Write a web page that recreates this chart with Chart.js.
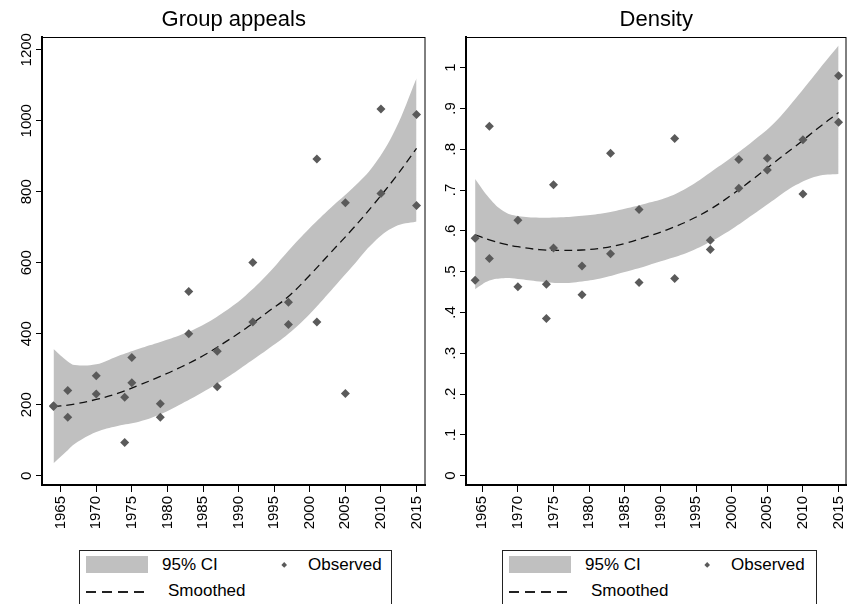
<!DOCTYPE html>
<html><head><meta charset="utf-8">
<script src="https://cdn.jsdelivr.net/npm/chart.js@4.4.1/dist/chart.umd.min.js"></script>
<style>
html,body{margin:0;padding:0;background:#fff;width:851px;height:604px;overflow:hidden;font-family:"Liberation Sans",Arial,sans-serif;}
canvas{position:absolute;top:0;}
#c1{left:0;}
#c2{left:430px;}
.legend{position:absolute;top:550px;height:70px;border:1px solid #222;box-sizing:border-box;background:#fff;}
.sw{position:absolute;left:6px;top:5px;width:62px;height:17px;background:#c0c0c0;}
.lt{position:absolute;font-size:17px;line-height:20px;height:20px;color:#000;white-space:nowrap;}
.dm{position:absolute;width:4.4px;height:4.4px;background:#5a5a5a;transform:rotate(45deg);}
.ds{position:absolute;left:6px;width:62px;height:1.5px;background:repeating-linear-gradient(to right,#222 0 10px,transparent 10px 16px);}
</style></head><body>
<canvas id="c1" width="430" height="545" style="width:430px;height:545px"></canvas>
<canvas id="c2" width="421" height="545" style="width:421px;height:545px"></canvas>
<div class="legend" style="left:79px;width:313px">
  <div class="sw"></div><div class="lt" style="left:82px;top:4px">95% CI</div>
  <div class="dm" style="left:202px;top:12px"></div><div class="lt" style="left:228px;top:4px">Observed</div>
  <div class="ds" style="top:40px"></div><div class="lt" style="left:88px;top:30px">Smoothed</div>
</div>
<div class="legend" style="left:502px;width:315px">
  <div class="sw"></div><div class="lt" style="left:82px;top:4px">95% CI</div>
  <div class="dm" style="left:202px;top:12px"></div><div class="lt" style="left:228px;top:4px">Observed</div>
  <div class="ds" style="top:40px"></div><div class="lt" style="left:88px;top:30px">Smoothed</div>
</div>
<script>
// ---- data ----
const electionYears = [1964,1966,1970,1974,1975,1979,1983,1987,1992,1997,2001,2005,2010,2015];
const appealsHigh = [197,240,282,221,333,203,519,351,601,489,892,769,1033,1018];
const appealsLow  = [195,165,230,94,262,165,400,251,433,426,433,232,795,761];
const densityHigh = [0.582,0.856,0.626,0.469,0.713,0.514,0.790,0.652,0.826,0.577,0.775,0.778,0.823,0.980];
const densityLow  = [0.479,0.532,0.463,0.385,0.558,0.443,0.544,0.473,0.483,0.554,0.704,0.749,0.690,0.866];

const smoothYearsL = [1964,1966,1967,1970,1973,1976,1979,1982,1985,1988,1991,1994,1997,2000,2003,2006,2009,2012,2015];
const appealsFit   = [195,199,202,215,232,255,280,307,338,375,415,460,505,565,630,695,765,840,922];
const appealsUpper = [357,322,312,314,337,358,377,398,425,462,508,566,634,698,756,810,875,975,1120];
const appealsLower = [35,72,90,123,140,152,173,203,236,272,313,355,400,456,522,590,658,702,716];

const smoothYearsR = [1964,1966,1968,1970,1973,1976,1979,1982,1985,1988,1991,1994,1997,2000,2003,2006,2009,2012,2015];
const densityFit   = [0.590,0.578,0.568,0.561,0.554,0.552,0.553,0.558,0.569,0.585,0.603,0.625,0.653,0.688,0.727,0.768,0.808,0.850,0.890];
const densityUpper = [0.727,0.680,0.648,0.636,0.632,0.633,0.637,0.643,0.654,0.667,0.682,0.708,0.743,0.780,0.820,0.865,0.925,0.990,1.054];
const densityLower = [0.457,0.478,0.484,0.482,0.476,0.472,0.476,0.485,0.499,0.514,0.530,0.548,0.573,0.604,0.640,0.677,0.712,0.734,0.739];

const xTicks = [1965,1970,1975,1980,1985,1990,1995,2000,2005,2010,2015];
const yTicksAppeals = [0,200,400,600,800,1000,1200];
const yTicksDensity = [0,0.1,0.2,0.3,0.4,0.5,0.6,0.7,0.8,0.9,1];

// ---- helpers ----
const FONT = '"Liberation Sans", Arial, sans-serif';
Chart.defaults.font.family = FONT;
Chart.defaults.color = '#000';
const pairs = (xs, ys) => ys.map((y, i) => ({x: xs[i], y}));

const framePlugin = {
  id: 'frame',
  afterDatasetsDraw(chart) {
    const {ctx, chartArea: a} = chart;
    ctx.save();
    ctx.strokeStyle = '#000';
    ctx.lineWidth = 1;
    ctx.strokeRect(a.left + 0.5, a.top + 0.5, a.right - a.left - 1, a.bottom - a.top - 1);
    ctx.restore();
  }
};

function build(id, o) {
  const pts = pairs(electionYears, o.high).concat(pairs(electionYears, o.low));
  return new Chart(document.getElementById(id), {
    type: 'scatter',
    data: {datasets: [
      {label: 'Observed', data: pts, pointStyle: 'rectRot', pointRadius: 4.5,
       pointBackgroundColor: '#5a5a5a', pointBorderColor: '#5a5a5a', pointBorderWidth: 0, order: 0},
      {label: 'Smoothed', type: 'line', data: pairs(o.sx, o.fit), borderColor: '#111', borderWidth: 1.3,
       borderDash: [8, 5], pointRadius: 0, fill: false, tension: 0.4, order: 1},
      {label: 'CI upper', type: 'line', data: pairs(o.sx, o.up), borderColor: 'transparent', borderWidth: 1,
       backgroundColor: '#c0c0c0', pointRadius: 0, fill: '+1', tension: 0.4, order: 2},
      {label: 'CI lower', type: 'line', data: pairs(o.sx, o.lo), borderColor: 'transparent', borderWidth: 1,
       pointRadius: 0, fill: false, tension: 0.4, order: 3}
    ]},
    options: {
      responsive: false, animation: false, devicePixelRatio: 1,
      layout: {padding: {left: 0, right: o.padRight, top: 0, bottom: 0}},
      plugins: {
        legend: {display: false}, tooltip: {enabled: false},
        title: {display: true, text: o.title, fullSize: false, color: '#000',
                font: {size: 22, weight: 'normal', family: FONT}, padding: {top: 7, bottom: 3.6}}
      },
      scales: {
        x: {type: 'linear', min: o.xmin, max: o.xmax,
            afterBuildTicks: s => { s.ticks = xTicks.map(v => ({value: v})); },
            ticks: {minRotation: 90, maxRotation: 90, padding: 4, color: '#000',
                    font: {size: 15, family: FONT}, callback: v => String(v)},
            grid: {drawOnChartArea: false, drawTicks: true, tickLength: 7, color: '#000', lineWidth: 1},
            border: {display: true, color: '#000', width: 2},
            afterFit: s => { s.height = 60; s.paddingLeft = 0; s.paddingRight = 0; }},
        y: {min: o.ymin, max: o.ymax,
            afterBuildTicks: s => { s.ticks = o.yTicks.map(v => ({value: v})); },
            ticks: {minRotation: 90, maxRotation: 90, crossAlign: 'center', padding: o.yPad, color: '#000',
                    font: {size: 15, family: FONT}, callback: o.yFmt},
            grid: {drawOnChartArea: false, drawTicks: true, tickLength: 6, color: '#000', lineWidth: 1},
            border: {display: true, color: '#000', width: 2},
            afterFit: s => { s.width = o.yWidth; s.paddingTop = 0; s.paddingBottom = 0; }}
      }
    },
    plugins: [framePlugin]
  });
}

build('c1', {title: 'Group appeals', high: appealsHigh, low: appealsLow, sx: smoothYearsL,
  fit: appealsFit, up: appealsUpper, lo: appealsLower, xmin: 1962.38, xmax: 2016.26,
  ymin: -26, ymax: 1236, yTicks: yTicksAppeals, yFmt: v => String(v), yPad: -7.5, yWidth: 42, padRight: 3});

build('c2', {title: 'Density', high: densityHigh, low: densityLow, sx: smoothYearsR,
  fit: densityFit, up: densityUpper, lo: densityLower, xmin: 1962.72, xmax: 2016.11,
  ymin: -0.023, ymax: 1.075, yTicks: yTicksDensity,
  yFmt: v => (v === 0 ? '0' : v === 1 ? '1' : String(v).replace(/^0/, '')), yPad: 2.4, yWidth: 36, padRight: 2});
</script>
</body></html>
